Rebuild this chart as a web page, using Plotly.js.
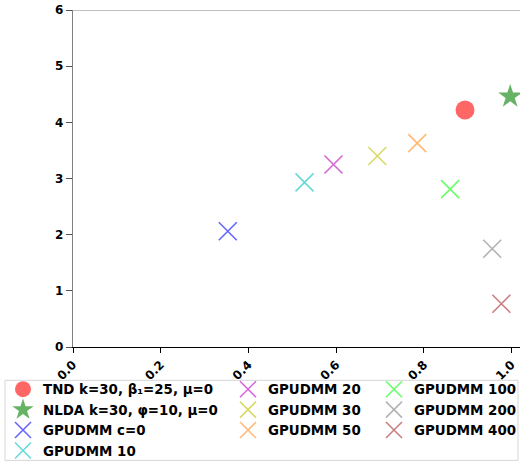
<!DOCTYPE html>
<html>
<head>
<meta charset="utf-8">
<script src="https://cdn.plot.ly/plotly-3.0.1.min.js"></script>
<style>html,body{margin:0;padding:0;background:#fff;}#chart{width:520px;height:462px;}</style>
</head>
<body>
<div id="chart"></div>
<script>
const names = ["TND k=30, β\u2081=25, μ=0", "NLDA k=30, φ=10, μ=0", "GPUDMM c=0", "GPUDMM 10",
  "GPUDMM 20", "GPUDMM 30", "GPUDMM 50", "GPUDMM 100", "GPUDMM 200", "GPUDMM 400"];
const xVals = [0.894, 0.997, 0.353, 0.528, 0.594, 0.694, 0.785, 0.860, 0.956, 0.977];
const yVals = [4.22, 4.46, 2.06, 2.93, 3.25, 3.40, 3.63, 2.81, 1.75, 0.77];
const colors = ["#ff0000", "#008000", "#0000ff", "#00bfbf", "#bf00bf", "#bfbf00", "#ff8c1a", "#00ff00", "#808080", "#a52a2a"];
const symbols = ["circle", "star", "x-thin-open", "x-thin-open", "x-thin-open", "x-thin-open", "x-thin-open", "x-thin-open", "x-thin-open", "x-thin-open"];
const legendOf = ["legend", "legend", "legend", "legend", "legend2", "legend2", "legend2", "legend3", "legend3", "legend3"];
const xTicks = [0, 0.2, 0.4, 0.6, 0.8, 1.0];
const xTickText = ["0.0", "0.2", "0.4", "0.6", "0.8", "1.0"];
const yTicks = [0, 1, 2, 3, 4, 5, 6];

const traces = names.map((n, i) => ({
  type: "scatter", mode: "markers", name: n,
  x: [xVals[i]], y: [yVals[i]],
  legend: legendOf[i],
  marker: {
    symbol: symbols[i], color: colors[i], opacity: 0.6,
    size: symbols[i] === "circle" ? 19 : 18,
    line: symbols[i].startsWith("x") ? {color: colors[i], width: 1.6} : {width: 0}
  }
}));

const legFont = {family: "DejaVu Sans", size: 13.4, color: "#000", weight: "bold"};
function leg(x) {
  return {xref: "container", yref: "container", x: x, y: 1 - 374 / 462, xanchor: "left", yanchor: "top",
    font: legFont, bgcolor: "rgba(0,0,0,0)", borderwidth: 0, tracegroupgap: 0, itemsizing: "trace"};
}

const layout = {
  width: 520, height: 462,
  margin: {l: 73, r: 0, t: 10, b: 115.3, autoexpand: false},
  paper_bgcolor: "#fff", plot_bgcolor: "#fff",
  font: {family: "DejaVu Sans", size: 12, color: "#000", weight: "bold"},
  showlegend: true,
  legend: leg(3 / 520),
  legend2: leg(228 / 520),
  legend3: leg(374 / 520),
  xaxis: {
    range: [0, 447 / 438.5], tickvals: xTicks, ticktext: xTickText, tickangle: -45,
    showgrid: false, zeroline: false, showline: true, linecolor: "#000", linewidth: 1,
    ticks: "outside", ticklen: 5, tickcolor: "#000", tickwidth: 1,
    tickfont: {family: "DejaVu Sans", size: 12, color: "#000", weight: "bold"}
  },
  yaxis: {
    range: [0, 6], tickvals: yTicks,
    showgrid: false, zeroline: false, showline: true, linecolor: "#808080", linewidth: 1.2,
    ticks: "outside", ticklen: 6, tickcolor: "#555", tickwidth: 1,
    tickfont: {family: "DejaVu Sans", size: 12, color: "#000", weight: "bold"}
  },
  shapes: [
    {type: "line", xref: "paper", yref: "y", x0: 0, x1: 1, y0: 6, y1: 6, line: {color: "#808080", width: 1.2}},
    {type: "rect", xref: "paper", yref: "paper", x0: -68 / 447, x1: 445 / 447, y0: -(380 - 346.7) / 336.7, y1: -(460 - 346.7) / 336.7,
     line: {color: "#d6d6d6", width: 1}, fillcolor: "rgba(0,0,0,0)"}
  ]
};

Plotly.newPlot("chart", traces, layout, {displayModeBar: false, staticPlot: true});
</script>
</body>
</html>
